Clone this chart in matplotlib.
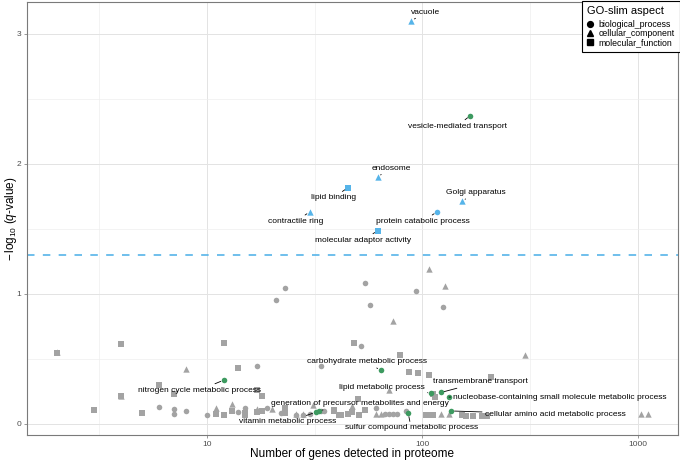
import numpy as np
import matplotlib
matplotlib.use('Agg')
import matplotlib.pyplot as plt
from matplotlib.lines import Line2D

plt.rcParams['font.family'] = ['Liberation Sans', 'DejaVu Sans']
plt.rcParams['mathtext.fontset'] = 'custom'
plt.rcParams['mathtext.rm'] = 'Liberation Sans'
plt.rcParams['mathtext.it'] = 'Liberation Sans:italic'

# ---------------- data ----------------
# labelled GO-slim terms
terms = ['vacuole', 'vesicle-mediated transport', 'endosome', 'lipid binding',
         'contractile ring', 'Golgi apparatus', 'protein catabolic process',
         'molecular adaptor activity', 'carbohydrate metabolic process',
         'nitrogen cycle metabolic process', 'lipid metabolic process',
         'transmembrane transport',
         'nucleobase-containing small molecule metabolic process',
         'cellular amino acid metabolic process',
         'sulfur compound metabolic process',
         'generation of precursor metabolites and energy',
         'vitamin metabolic process']
term_genes = [89, 167, 62, 45, 30, 153, 117, 62, 64, 12, 110, 122, 133, 136, 86, 33, 32]
term_q = [3.10, 2.37, 1.90, 1.815, 1.63, 1.713, 1.63, 1.485, 0.41, 0.336, 0.235,
          0.24, 0.205, 0.098, 0.08, 0.10, 0.088]
term_aspect = ['C', 'B', 'C', 'M', 'C', 'C', 'B', 'M', 'B', 'B', 'B', 'B', 'B',
               'B', 'B', 'B', 'B']
term_group = ['sig', 'focus', 'sig', 'sig', 'sig', 'sig', 'sig', 'sig', 'focus',
              'focus', 'focus', 'focus', 'focus', 'focus', 'focus', 'focus', 'focus']

# unlabelled terms
other_genes = [21, 23.1, 54, 57, 73, 93, 107, 128, 125, 48, 52, 79, 301, 2.0, 2.0,
               4.0, 12, 14, 17, 34, 8.0, 87, 95, 107, 209, 6.0, 7.0, 4.0, 4.0, 17, 18,
               70, 50, 47, 31, 112, 115,
               3.0, 5.0, 6.0, 7.0, 7.0, 8.0, 10, 11, 11, 12, 13, 13, 14, 15, 15, 15,
               17, 17, 18, 19, 20, 22, 23, 23, 26, 26, 28, 28, 30, 34, 35, 39, 39, 41,
               42, 45, 47, 51, 54, 61, 61, 64, 67, 70, 73, 76, 84, 104, 108, 112, 122,
               133, 153, 160, 172, 190, 200, 1038, 1121]
other_q = [0.952, 1.046, 1.082, 0.913, 0.79, 1.02, 1.19, 1.06, 0.90, 0.62, 0.595,
           0.53, 0.53, 0.55, 0.545, 0.61, 0.618, 0.43, 0.446, 0.446, 0.418, 0.395,
           0.388, 0.372, 0.36, 0.30, 0.228, 0.215, 0.21, 0.26, 0.215, 0.26, 0.19,
           0.138, 0.14, 0.225, 0.205,
           0.105, 0.082, 0.13, 0.11, 0.072, 0.098, 0.067, 0.12, 0.072, 0.067, 0.154,
           0.098, 0.088, 0.118, 0.085, 0.065, 0.088, 0.11, 0.10, 0.118, 0.11, 0.085,
           0.12, 0.08, 0.067, 0.072, 0.067, 0.072, 0.075, 0.098, 0.10, 0.098, 0.105,
           0.065, 0.07, 0.072, 0.092, 0.07, 0.105, 0.123, 0.072, 0.072, 0.072, 0.072,
           0.072, 0.072, 0.10, 0.067, 0.067, 0.067, 0.072, 0.072, 0.067, 0.062,
           0.062, 0.062, 0.062, 0.072, 0.072]
other_aspect = ['B', 'B', 'B', 'B', 'C', 'B', 'C', 'C', 'B', 'M', 'B', 'M', 'C', 'C',
                'M', 'M', 'M', 'M', 'B', 'B', 'C', 'M', 'M', 'M', 'M', 'M', 'M', 'C',
                'M', 'M', 'M', 'C', 'M', 'C', 'C', 'M', 'M',
                'M', 'M', 'B', 'B', 'B', 'B', 'B', 'C', 'M', 'M', 'C', 'M', 'B', 'B',
                'M', 'M', 'M', 'C', 'M', 'B', 'C', 'B', 'M', 'M', 'B', 'C', 'B', 'C',
                'B', 'B', 'B', 'M', 'M', 'M', 'M', 'M', 'M', 'M', 'M', 'B', 'C', 'C',
                'B', 'B', 'B', 'B', 'B', 'M', 'M', 'M', 'C', 'C', 'M', 'M', 'M', 'M',
                'M', 'C', 'C']

aspect_names = {'B': 'biological_process', 'C': 'cellular_component',
                'M': 'molecular_function'}
q_threshold = 0.05

# text placement of labels (genes, -log10 q)
label_pos = {
    'vacuole': (104, 3.167),
    'vesicle-mediated transport': (145, 2.29),
    'endosome': (72, 1.965),
    'lipid binding': (38.7, 1.738),
    'contractile ring': (25.9, 1.557),
    'Golgi apparatus': (178, 1.777),
    'protein catabolic process': (100.5, 1.557),
    'molecular adaptor activity': (53.3, 1.413),
    'carbohydrate metabolic process': (55.2, 0.477),
    'nitrogen cycle metabolic process': (9.25, 0.259),
    'lipid metabolic process': (64.9, 0.282),
    'transmembrane transport': (186, 0.321),
    'nucleobase-containing small molecule metabolic process': (436, 0.20),
    'cellular amino acid metabolic process': (414, 0.072),
    'sulfur compound metabolic process': (88.7, -0.031),
    'generation of precursor metabolites and energy': (51.2, 0.154),
    'vitamin metabolic process': (23.8, 0.015),
}

# ---------------- style ----------------
markers = {'B': 'o', 'C': '^', 'M': 's'}
sizes = {'B': 16, 'C': 21, 'M': 15}
colors = {'sig': '#56B4E9', 'focus': '#3d9a60', 'other': '#a3a3a3'}

fig = plt.figure(figsize=(6.8, 4.63), dpi=100)
ax = fig.add_axes([27 / 680, 1 - 435 / 463, (677.7 - 27) / 680, (435 - 2) / 463])
ax.set_xscale('log')
ax.set_xlim(10 ** 0.164, 10 ** 3.186)
ax.set_ylim(-0.087, 3.244)

# grid
ax.set_xticks([10, 100, 1000])
ax.set_xticklabels(['10', '100', '1000'])
ax.set_xticks([10 ** 0.5, 10 ** 1.5, 10 ** 2.5], minor=True)
ax.set_yticks([0, 1, 2, 3])
ax.set_yticks([0.5, 1.5, 2.5], minor=True)
ax.grid(which='major', color='#e3e3e3', lw=0.7)
ax.grid(which='minor', color='#eeeeee', lw=0.5)
ax.set_axisbelow(True)
ax.tick_params(which='minor', length=0)
ax.tick_params(which='major', length=2.5, width=0.6, color='#888888',
               labelsize=6, labelcolor='#4d4d4d', pad=1.5)
for s in ax.spines.values():
    s.set_color('#7a7a7a')
    s.set_linewidth(0.8)

# threshold line
ax.axhline(-np.log10(q_threshold), color=colors['sig'], lw=1.2,
           linestyle=(0, (4.5, 5)), zorder=1.5)

# unlabelled points
og = np.array(other_genes)
oq = np.array(other_q)
oa = np.array(other_aspect)
for a in ['B', 'C', 'M']:
    m = oa == a
    ax.scatter(og[m], oq[m], marker=markers[a], s=sizes[a], c=colors['other'],
               linewidths=0, zorder=2)

# labelled points
for t, g, q, a, grp in zip(terms, term_genes, term_q, term_aspect, term_group):
    ax.scatter([g], [q], marker=markers[a], s=sizes[a], c=colors[grp],
               linewidths=0, zorder=3)
    lx, ly = label_pos[t]
    ax.annotate(t, xy=(g, q), xytext=(lx, ly), textcoords='data', ha='center',
                va='center', fontsize=6, color='black', zorder=4,
                annotation_clip=False,
                arrowprops=dict(arrowstyle='-', color='black', lw=0.6,
                                shrinkA=0, shrinkB=2.5))

ax.set_xlabel('Number of genes detected in proteome', fontsize=8.5, labelpad=0)
ax.set_ylabel(r'$-\,\mathrm{log}_{10}$ ($q$-value)', fontsize=8.5, labelpad=-2)

# legend
handles = [Line2D([], [], marker=markers[a], color='black', linestyle='none',
                  markersize=4.2 if a != 'C' else 4.8, label=aspect_names[a])
           for a in ['B', 'C', 'M']]
leg = fig.legend(handles=handles, title='GO-slim aspect', loc='upper left',
                 bbox_to_anchor=(581.7 / 680, 1 - 1.0 / 463),
                 bbox_transform=fig.transFigure, fontsize=6.3, title_fontsize=8,
                 frameon=True, fancybox=False, edgecolor='black', framealpha=1,
                 borderpad=0.6, labelspacing=0.0, handlelength=0.7,
                 handletextpad=0.6, handleheight=0.8, alignment='left',
                 borderaxespad=0)
leg.get_frame().set_linewidth(0.8)
leg._legend_box.sep = 2.5

fig.savefig('out.png', dpi=100)
